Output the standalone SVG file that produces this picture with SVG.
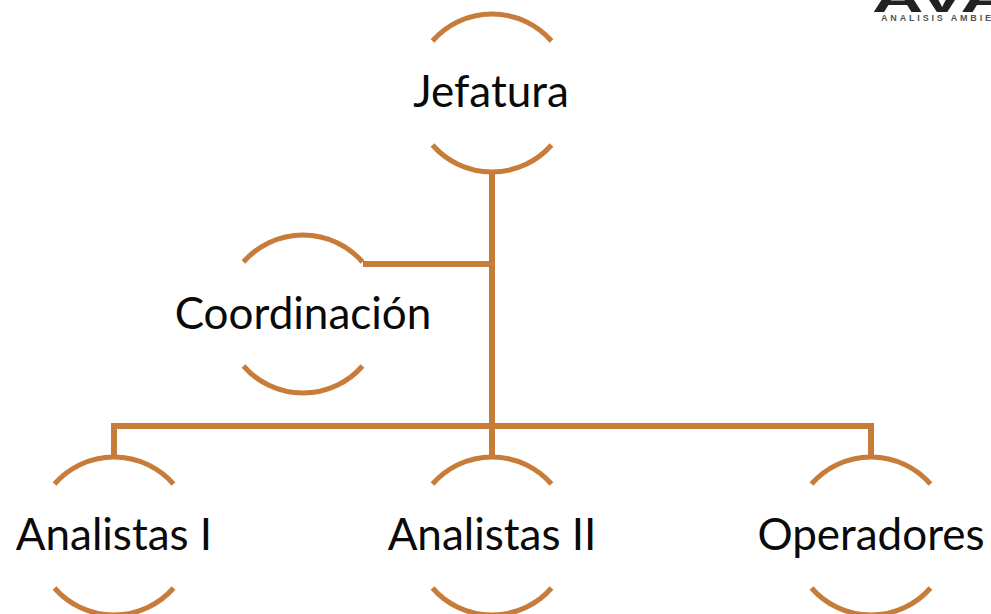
<svg xmlns="http://www.w3.org/2000/svg" width="991" height="614" viewBox="0 0 991 614">
<style>
.arc{fill:none;stroke:#c77c3a;stroke-width:5}
.conn{fill:none;stroke:#c77c3a;stroke-width:6}
.lbl{font-family:Lato,"Open Sans",sans-serif;font-size:44px;fill:#0a0a0a;text-anchor:middle}
.logo{font-family:"Liberation Sans",Arial,sans-serif;font-weight:700;fill:#222}
</style>
<defs><g id="ring"><path class="arc" d="M-59.500 -52 A79 79 0 0 1 59.500 -52"/><path class="arc" d="M-59.500 52 A79 79 0 0 0 59.500 52"/></g>
<clipPath id="lc"><rect x="860" y="0" width="131" height="30"/></clipPath></defs>
<rect width="991" height="614" fill="#fff"/>
<g id="connectors">
<path class="conn" d="M492 170V458M363 264H492M114 458V426H871V458"/>
</g>
<g id="jefatura"><use href="#ring" x="492" y="93"/><text class="lbl" x="491" y="107">Jefatura</text></g>
<g id="coordinacion"><use href="#ring" x="303" y="314"/><text class="lbl" x="303" y="329">Coordinación</text></g>
<g id="analistas1"><use href="#ring" x="114" y="536"/><text class="lbl" x="114" y="550">Analistas I</text></g>
<g id="analistas2"><use href="#ring" x="492" y="536"/><text class="lbl" x="492" y="550">Analistas II</text></g>
<g id="operadores"><use href="#ring" x="871" y="536"/><text class="lbl" x="871" y="550">Operadores</text></g>
<g id="logo" clip-path="url(#lc)"><text class="logo" x="872" y="12" font-size="40" textLength="140" lengthAdjust="spacingAndGlyphs">AVA</text><text class="logo" x="881" y="21" font-size="9" fill-opacity="0.8" textLength="110" lengthAdjust="spacing">ANALISIS AMBIE</text></g>
</svg>
